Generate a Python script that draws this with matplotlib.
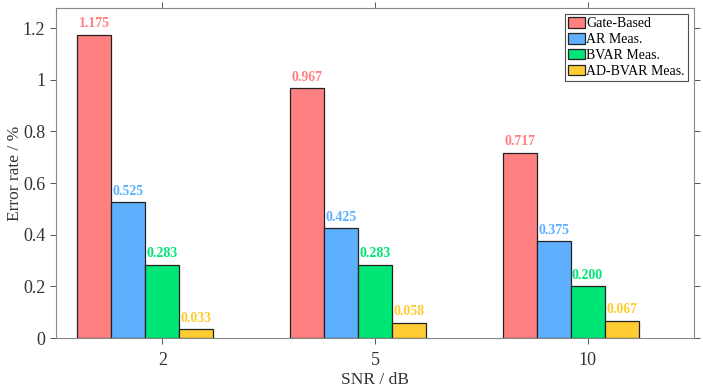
import numpy as np
import matplotlib
matplotlib.use("Agg")
import matplotlib.pyplot as plt

snr_labels = ["2", "5", "10"]
methods = ["Gate-Based", "AR Meas.", "BVAR Meas.", "AD-BVAR Meas."]
gate_based = [1.175, 0.967, 0.717]
ar_meas = [0.525, 0.425, 0.375]
bvar_meas = [0.283, 0.283, 0.200]
ad_bvar_meas = [0.033, 0.058, 0.067]
colors = ["#FF8080", "#5EB0FF", "#00E676", "#FFCC33"]

plt.rcParams['font.family'] = ['Liberation Serif', 'DejaVu Serif']

fig = plt.figure(figsize=(7.03, 3.9), dpi=100)
ax = fig.add_axes([0.0797, 0.1333, 0.9073, 0.8462])

x = np.arange(1, len(snr_labels) + 1)
w = 0.16
series = [gate_based, ar_meas, bvar_meas, ad_bvar_meas]
for i, (vals, name, c) in enumerate(zip(series, methods, colors)):
    pos = x + (i - 2) * w
    ax.bar(pos, vals, width=w, color=c, edgecolor="#222222", linewidth=0.9, label=name)
    for px, v in zip(pos, vals):
        ax.text(px, v + 0.018, f"{v:.3f}", ha="center", va="bottom",
                color=c, fontsize=10, fontweight="bold")

ax.set_xlim(0.5, 3.5)
ax.set_ylim(0, 1.278)
ax.set_xticks(x)
ax.set_xticklabels(snr_labels)
ax.set_yticks([0, 0.2, 0.4, 0.6, 0.8, 1.0, 1.2])
ax.set_yticklabels(["0", "0.2", "0.4", "0.6", "0.8", "1", "1.2"])
ax.tick_params(direction="out", length=4.3, width=0.7, colors="#555555",
               labelcolor="#333333", labelsize=13, top=True, right=True)
ax.tick_params(axis="x", pad=6)
for s in ax.spines.values():
    s.set_color("#888888")
    s.set_linewidth(0.8)

ax.set_xlabel("SNR / dB", fontsize=12.5, color="#333333", labelpad=2)
ax.set_ylabel("Error rate / %", fontsize=12.5, color="#333333", labelpad=0)

leg = ax.legend(loc="upper right", fontsize=10, frameon=True, fancybox=False,
                handlelength=1.2, handleheight=0.8, handletextpad=0.1,
                labelspacing=0.2, borderpad=0.2, borderaxespad=0.45)
leg.get_frame().set_edgecolor("#222222")
leg.get_frame().set_linewidth(0.8)

fig.savefig("out.png", dpi=100)
